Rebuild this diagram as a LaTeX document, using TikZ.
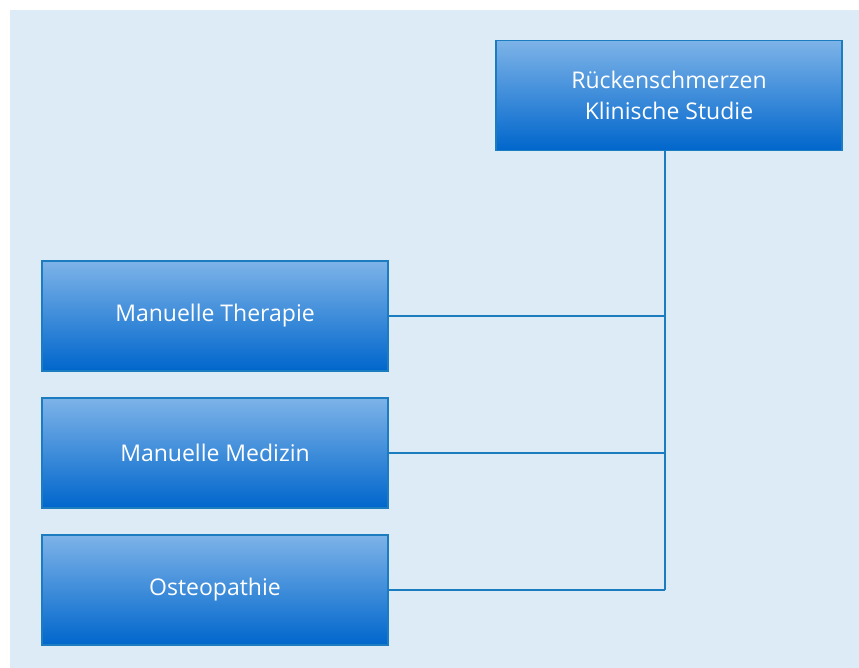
\documentclass[tikz,border=0pt]{standalone}
\usepackage{fontspec}
\setmainfont{Open Sans}
\definecolor{bgblue}{HTML}{DDEBF7}
\definecolor{boxtop}{HTML}{7DB3E8}
\definecolor{boxbot}{HTML}{0066CC}
\definecolor{linblue}{HTML}{1C7CC0}
\tikzset{
  box/.style={draw=linblue,line width=1.2pt,top color=boxtop,bottom color=boxbot,
    minimum width=346pt,minimum height=110pt,text=white,align=center,
    font=\fontsize{23}{31}\selectfont,inner sep=0pt},
  link/.style={draw=linblue,line width=1.4pt}
}
\begin{document}
\begin{tikzpicture}[x=1pt,y=-1pt]
\fill[bgblue] (10,10) rectangle (859,668);
\useasboundingbox (0,0) rectangle (859,668);
\node[box] (study) at (669,95.5) {Rückenschmerzen\\Klinische Studie};
\node[box] (therapy) at (215,316) {Manuelle Therapie};
\node[box] (medicine) at (215,453) {Manuelle Medizin};
\node[box] (osteo) at (215,590) {Osteopathie};
\coordinate (j1) at (665,316);
\coordinate (j2) at (665,453);
\coordinate (j3) at (665,590);
\draw[link] (study.south -| j1) -- (j3);
\draw[link] (therapy.east) -- (j1);
\draw[link] (medicine.east) -- (j2);
\draw[link] (osteo.east) -- (j3);
\end{tikzpicture}
\end{document}
